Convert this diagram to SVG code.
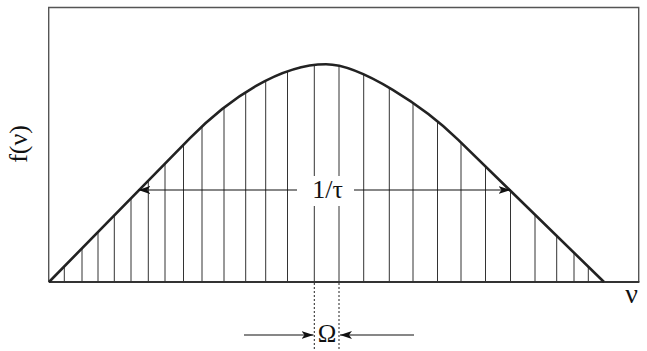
<svg xmlns="http://www.w3.org/2000/svg" width="647" height="351" viewBox="0 0 647 351">
<style>
.frame{fill:none;stroke:#555;stroke-width:1.4}
.axis{fill:none;stroke:#333;stroke-width:2}
.curve{fill:none;stroke:#222;stroke-width:2.6;stroke-linejoin:round}
.hatch{stroke:#333;stroke-width:1}
.dim{stroke:#111;stroke-width:1.2;fill:none}
.dot{stroke:#222;stroke-width:1;stroke-dasharray:2,2}
.lbl{font-family:"Liberation Serif","Times New Roman",serif;fill:#111}
</style>
<defs>
<marker id="ah" viewBox="0 0 12 8" refX="12" refY="4" markerWidth="12" markerHeight="8" markerUnits="userSpaceOnUse" orient="auto">
<path d="M0,0 L12,4 L0,8 L3,4 z" fill="#111"/>
</marker>
<clipPath id="under">
<path d="M49,282 L190,138.2 C230,97.4 281,64.3 326,64.3 C361,64.3 425,107.4 458,139.6 L604,282 Z"/>
</clipPath>
</defs>
<g id="frame">
<path class="frame" d="M48.7,282 L48.7,7.5 L638.7,7.5 L638.7,282"/>
<line class="axis" x1="48.7" y1="282" x2="639.4" y2="282"/>
</g>
<g id="hatching" clip-path="url(#under)">
<g class="hatch">
<line x1="64.3" y1="282" x2="64.3" y2="50"/>
<line x1="82" y1="282" x2="82" y2="50"/>
<line x1="98" y1="282" x2="98" y2="50"/>
<line x1="114.3" y1="282" x2="114.3" y2="50"/>
<line x1="131" y1="282" x2="131" y2="50"/>
<line x1="148.3" y1="282" x2="148.3" y2="50"/>
<line x1="165" y1="282" x2="165" y2="50"/>
<line x1="183.5" y1="282" x2="183.5" y2="50"/>
<line x1="202" y1="282" x2="202" y2="50"/>
<line x1="224" y1="282" x2="224" y2="50"/>
<line x1="245.7" y1="282" x2="245.7" y2="50"/>
<line x1="265.7" y1="282" x2="265.7" y2="50"/>
<line x1="287.5" y1="282" x2="287.5" y2="50"/>
<line x1="314.3" y1="282" x2="314.3" y2="50"/>
<line x1="339" y1="282" x2="339" y2="50"/>
<line x1="363.7" y1="282" x2="363.7" y2="50"/>
<line x1="389.3" y1="282" x2="389.3" y2="50"/>
<line x1="413" y1="282" x2="413" y2="50"/>
<line x1="437.5" y1="282" x2="437.5" y2="50"/>
<line x1="461" y1="282" x2="461" y2="50"/>
<line x1="485.5" y1="282" x2="485.5" y2="50"/>
<line x1="510.5" y1="282" x2="510.5" y2="50"/>
<line x1="535" y1="282" x2="535" y2="50"/>
<line x1="556.7" y1="282" x2="556.7" y2="50"/>
<line x1="574" y1="282" x2="574" y2="50"/>
<line x1="588.3" y1="282" x2="588.3" y2="50"/>
</g>
</g>
<g id="curve">
<path class="curve" d="M49,282 L190,138.2 C230,97.4 281,64.3 326,64.3 C361,64.3 425,107.4 458,139.6 L604,282"/>
</g>
<g id="connectors">
<rect x="298" y="176" width="55" height="30" fill="#fff"/>
<line class="dim" x1="297" y1="190" x2="138.3" y2="190" marker-end="url(#ah)"/>
<line class="dim" x1="354" y1="190" x2="510.5" y2="190" marker-end="url(#ah)"/>
<line class="dot" x1="314.3" y1="283" x2="314.3" y2="351"/>
<line class="dot" x1="339" y1="283" x2="339" y2="351"/>
<line class="dim" x1="244" y1="335" x2="313.5" y2="335" marker-end="url(#ah)"/>
<line class="dim" x1="414" y1="335" x2="340" y2="335" marker-end="url(#ah)"/>
</g>
<g id="labels">
<text class="lbl" x="327.5" y="198" font-size="26" text-anchor="middle">1/τ</text>
<text class="lbl" x="327" y="342" font-size="25" text-anchor="middle">Ω</text>
<text class="lbl" x="631.5" y="303" font-size="28" text-anchor="middle">ν</text>
<text class="lbl" transform="translate(27,144) rotate(-90)" font-size="26" text-anchor="middle">f(ν)</text>
</g>
</svg>
